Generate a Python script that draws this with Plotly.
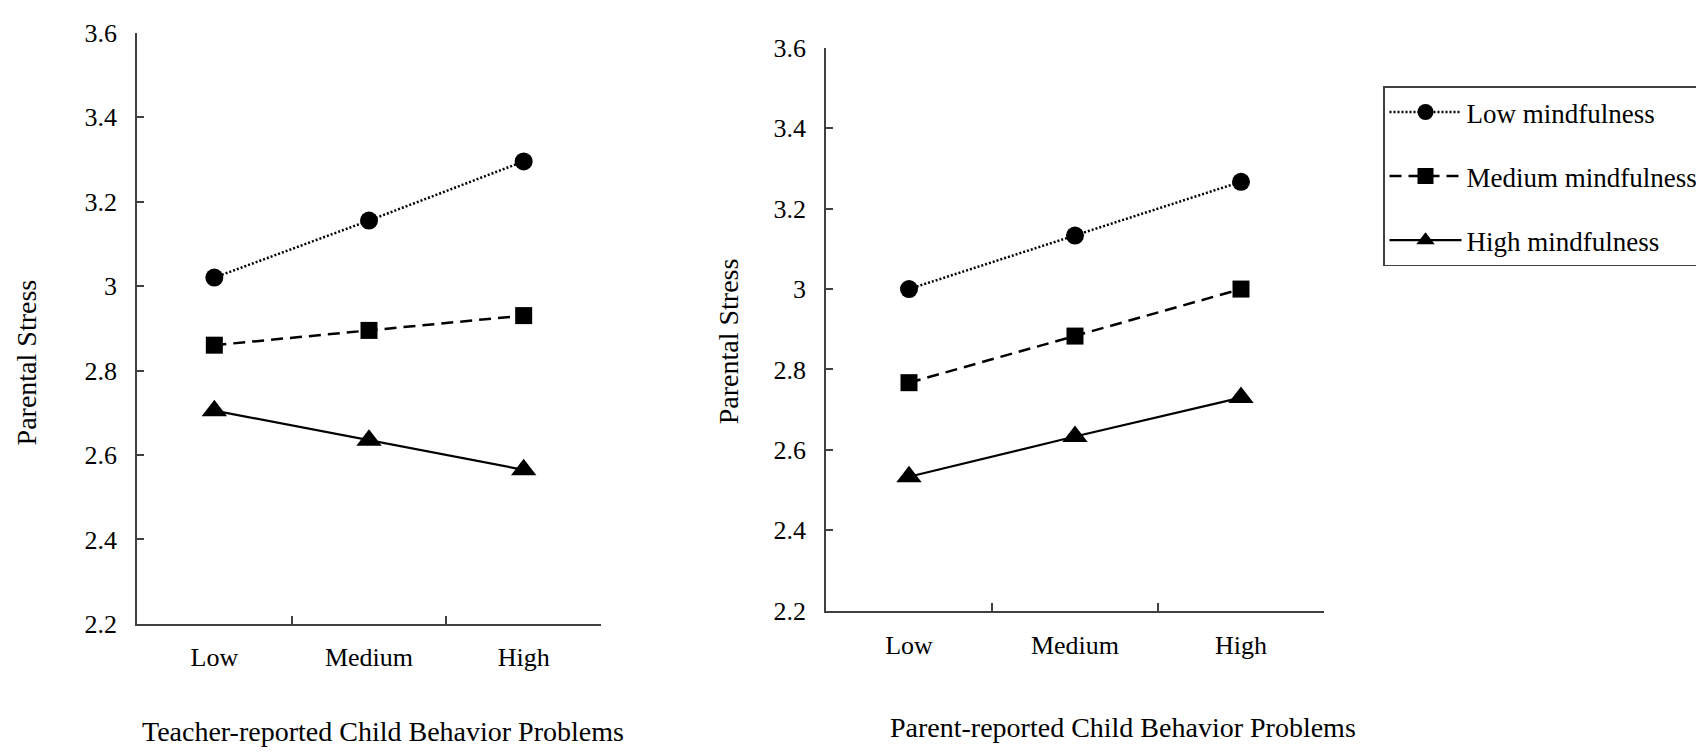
import plotly.graph_objects as go

categories = ["Low", "Medium", "High"]
series_names = ["Low mindfulness", "Medium mindfulness", "High mindfulness"]

teacher_low = [3.02, 3.155, 3.295]
teacher_medium = [2.86, 2.895, 2.93]
teacher_high = [2.705, 2.635, 2.565]

parent_low = [3.0, 3.133, 3.267]
parent_medium = [2.767, 2.883, 3.0]
parent_high = [2.533, 2.633, 2.73]

y_tickvals = [2.2, 2.4, 2.6, 2.8, 3.0, 3.2, 3.4, 3.6]
y_ticktext = ["2.2", "2.4", "2.6", "2.8", "3", "3.2", "3.4", "3.6"]

x_title_left = "Teacher-reported Child Behavior Problems"
x_title_right = "Parent-reported Child Behavior Problems"
y_title = "Parental Stress"

W, H = 1704, 756
OFF = 8  # page body margin
FONT = "Liberation Serif"
AX = "#404040"

styles = [
    dict(symbol="circle", size=18, dash="2px,2px", width=2.5),
    dict(symbol="square", size=17, dash="12px,7px", width=2.5),
    dict(symbol="triangle-up", size=22, dash="solid", width=2.2),
]

fig = go.Figure()

for panel, data, xa, ya in [
    ("L", [teacher_low, teacher_medium, teacher_high], "x", "y"),
    ("R", [parent_low, parent_medium, parent_high], "x2", "y2"),
]:
    for name, vals, st in zip(series_names, data, styles):
        fig.add_trace(go.Scatter(
            x=categories, y=vals, xaxis=xa, yaxis=ya,
            mode="lines+markers", name=name,
            legendgroup=name, showlegend=(panel == "R"),
            line=dict(color="black", width=st["width"], dash=st["dash"]),
            marker=dict(symbol=st["symbol"], size=st["size"], color="black"),
        ))

def px_x(v):
    return (v - OFF) / W

def px_y(v):
    return 1 - (v - OFF) / H

common_x = dict(
    type="category", range=[-0.5, 2.5], tickson="boundaries",
    ticks="inside", ticklen=8, tickwidth=1.5, tickcolor=AX,
    showline=True, linecolor=AX, linewidth=1.5, showgrid=False, zeroline=False,
    tickfont=dict(family=FONT, size=26, color="black"),
    fixedrange=True,
)
common_y = dict(
    range=[2.2, 3.6], tickvals=y_tickvals, ticktext=y_ticktext,
    ticks="inside", ticklen=7, tickwidth=1.5, tickcolor=AX,
    showline=True, linecolor=AX, linewidth=1.5, showgrid=False, zeroline=False,
    tickfont=dict(family=FONT, size=26, color="black"), ticklabelstandoff=13,
    fixedrange=True,
)

fig.update_layout(
    width=W, height=H, autosize=False,
    margin=dict(l=0, r=0, t=0, b=0),
    paper_bgcolor="white", plot_bgcolor="white",
    font=dict(family=FONT, color="black"),
    xaxis=dict(common_x, domain=[px_x(137), px_x(601)], anchor="y", ticklabelstandoff=9),
    yaxis=dict(common_y, domain=[px_y(634), px_y(19)], anchor="x"),
    xaxis2=dict(common_x, domain=[px_x(826), px_x(1324)], anchor="y2", ticklabelstandoff=11),
    yaxis2=dict(common_y, domain=[px_y(620), px_y(35)], anchor="x2"),
    showlegend=True,
    legend=dict(
        x=px_x(1383), y=px_y(75), xanchor="left", yanchor="top",
        bordercolor=AX, borderwidth=1.5, bgcolor="white",
        font=dict(family=FONT, size=27, color="black"),
        tracegroupgap=26, itemwidth=72,
    ),
    annotations=[
        dict(text=x_title_left, x=px_x(383), y=px_y(746), xref="paper", yref="paper",
             xanchor="center", yanchor="middle",
             showarrow=False, font=dict(family=FONT, size=28, color="black")),
        dict(text=x_title_right, x=px_x(1123), y=px_y(742), xref="paper", yref="paper",
             xanchor="center", yanchor="middle",
             showarrow=False, font=dict(family=FONT, size=28, color="black")),
        dict(text=y_title, x=px_x(26), y=px_y(362), xref="paper", yref="paper",
             xanchor="center", yanchor="middle",
             textangle=-90, showarrow=False, font=dict(family=FONT, size=28, color="black")),
        dict(text=y_title, x=px_x(728), y=px_y(340), xref="paper", yref="paper",
             xanchor="center", yanchor="middle",
             textangle=-90, showarrow=False, font=dict(family=FONT, size=28, color="black")),
    ],
)

fig.write_html("out.html")
